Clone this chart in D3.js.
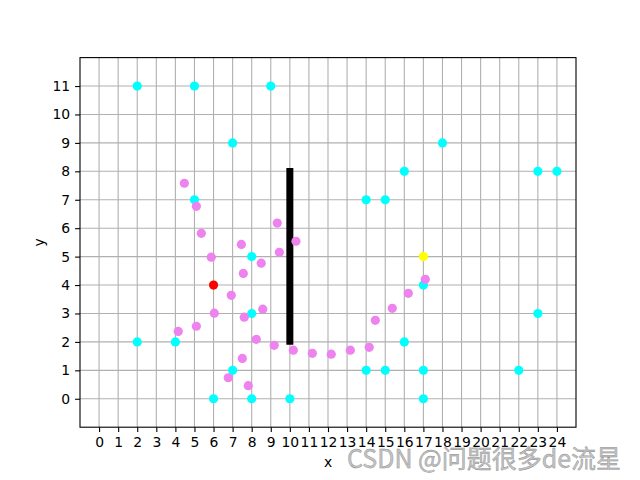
<!DOCTYPE html>
<html>
<head>
<meta charset="utf-8">
<script src="https://cdn.jsdelivr.net/npm/d3@7"></script>
<style>
  body { margin: 0; background: #fff; }
  svg { display: block; font-family: "DejaVu Sans", sans-serif; }
</style>
</head>
<body>
<svg id="chart" width="640" height="480"></svg>
<script>
// Data
const xTicks = d3.range(0, 25);
const yTicks = d3.range(0, 12);
const cyanX = [2, 5, 9, 7, 18, 16, 23, 24, 5, 14, 15, 8, 17, 8, 23, 2, 4, 16, 7, 14, 15, 17, 22, 6, 8, 10, 17];
const cyanY = [11, 11, 11, 9, 9, 8, 8, 8, 7, 7, 7, 5, 4, 3, 3, 2, 2, 2, 1, 1, 1, 1, 1, 0, 0, 0, 0];
const violetX = [4.47, 5.10, 5.36, 5.88, 7.46, 7.56, 8.50, 9.34, 9.45, 10.32, 6.93, 6.04, 7.61, 8.58, 5.10, 4.15, 8.24, 9.18, 7.51, 6.77, 7.82, 10.18, 11.18, 12.17, 13.17, 14.16, 14.48, 15.37, 16.21, 17.10];
const violetY = [7.58, 6.77, 5.82, 4.98, 5.43, 4.41, 4.77, 6.18, 5.15, 5.54, 3.64, 3.01, 2.87, 3.15, 2.55, 2.37, 2.09, 1.88, 1.42, 0.74, 0.46, 1.71, 1.60, 1.57, 1.71, 1.81, 2.76, 3.18, 3.71, 4.20];
const startPoint = [6, 4];
const goalPoint = [17, 5];
const wallX = [10, 10];
const wallY = [1.9, 8.12];

const svg = d3.select("#chart");
const m = { left: 80, right: 576, top: 57.6, bottom: 427.2 };
const x = d3.scaleLinear().domain([-1, 25]).range([m.left, m.right]);
const y = d3.scaleLinear().domain([-1, 12]).range([m.bottom, m.top]);

// grid
const g = svg.append("g");
g.selectAll(".gx").data(xTicks).enter().append("line")
  .attr("x1", d => x(d)).attr("x2", d => x(d))
  .attr("y1", m.top).attr("y2", m.bottom)
  .attr("stroke", "#b0b0b0").attr("stroke-width", 1.1);
g.selectAll(".gy").data(yTicks).enter().append("line")
  .attr("y1", d => y(d)).attr("y2", d => y(d))
  .attr("x1", m.left).attr("x2", m.right)
  .attr("stroke", "#b0b0b0").attr("stroke-width", 1.1);

// wall
svg.append("line")
  .attr("x1", x(wallX[0])).attr("x2", x(wallX[1]))
  .attr("y1", y(wallY[0])).attr("y2", y(wallY[1]))
  .attr("stroke", "#000").attr("stroke-width", 7);

const r = 4.6;
svg.append("g").selectAll("circle").data(cyanX.map((d, i) => [d, cyanY[i]])).enter()
  .append("circle").attr("cx", d => x(d[0])).attr("cy", d => y(d[1])).attr("r", r)
  .attr("fill", "#00ffff");
svg.append("g").selectAll("circle").data(violetX.map((d, i) => [d, violetY[i]])).enter()
  .append("circle").attr("cx", d => x(d[0])).attr("cy", d => y(d[1])).attr("r", r)
  .attr("fill", "#ee82ee");
svg.append("circle").attr("cx", x(startPoint[0])).attr("cy", y(startPoint[1])).attr("r", r).attr("fill", "#ff0000");
svg.append("circle").attr("cx", x(goalPoint[0])).attr("cy", y(goalPoint[1])).attr("r", r).attr("fill", "#ffff00");

// axes
const xAxis = d3.axisBottom(x).tickValues(xTicks).tickSize(4.9).tickPadding(4.9).tickFormat(d3.format("d"));
const yAxis = d3.axisLeft(y).tickValues(yTicks).tickSize(4.9).tickPadding(4.9).tickFormat(d3.format("d"));
const gx = svg.append("g").attr("transform", `translate(0,${m.bottom})`).call(xAxis);
const gy = svg.append("g").attr("transform", `translate(${m.left},0)`).call(yAxis);
[gx, gy].forEach(a => {
  a.select(".domain").remove();
  a.selectAll(".tick line").attr("stroke", "#000").attr("stroke-width", 1.1);
  a.selectAll(".tick text").attr("font-size", 13.9).attr("font-family", "DejaVu Sans").attr("fill", "#000");
});
svg.append("rect").attr("x", m.left).attr("y", m.top)
  .attr("width", m.right - m.left).attr("height", m.bottom - m.top)
  .attr("fill", "none").attr("stroke", "#000").attr("stroke-width", 1.1);

svg.append("text").attr("x", (m.left + m.right) / 2).attr("y", 467)
  .attr("text-anchor", "middle").attr("font-size", 13.9).text("x");
svg.append("text").attr("transform", `translate(44,${(m.top + m.bottom) / 2}) rotate(-90)`)
  .attr("text-anchor", "middle").attr("font-size", 13.9).text("y");

// watermark
svg.append("text").attr("x", 347).attr("y", 468)
  .attr("font-family", "'Noto Sans CJK SC', 'DejaVu Sans', sans-serif")
  .attr("font-size", 25).attr("fill", "#c4c4c4")
  .attr("stroke", "#8a8a8a").attr("stroke-width", 0.4)
  .text("CSDN @问题很多de流星");
</script>
</body>
</html>
